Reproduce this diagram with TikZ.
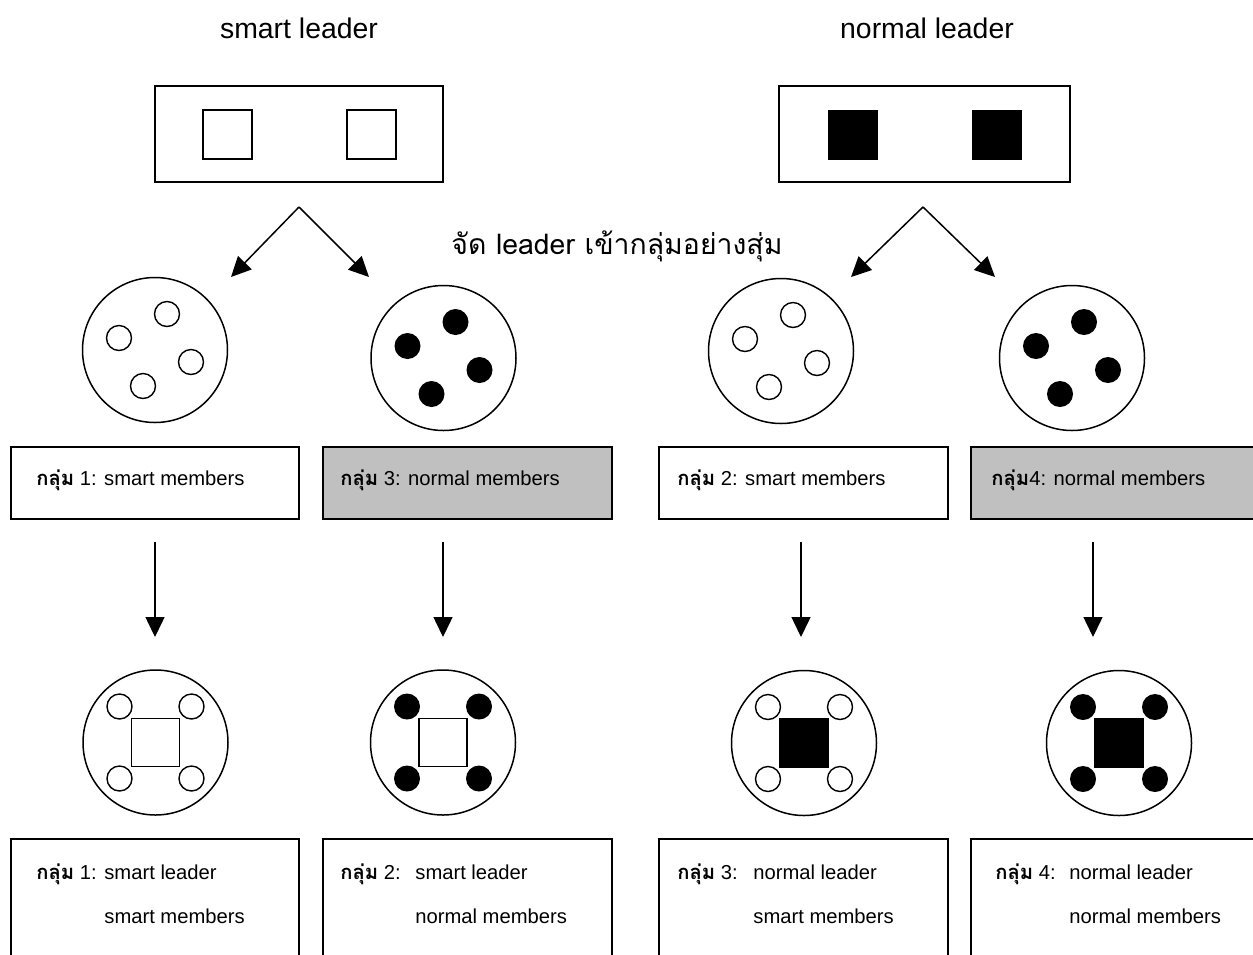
\documentclass[tikz,border=0pt]{standalone}
\usepackage{fontspec}
\setmainfont{Liberation Sans}
\newfontfamily\thaifont[Script=Thai]{Loma}
\usetikzlibrary{arrows.meta}
\newcommand\klum{{\thaifont\bfseries กลุ่ม}}
\begin{document}
\begin{tikzpicture}[x=0.5pt,y=-0.5pt,
  frame/.style={draw, rectangle, line width=0.8pt, inner sep=0pt},
  pool/.style={draw, circle, line width=0.75pt, minimum size=72.5pt, inner sep=0pt},
  memopen/.style={draw, circle, line width=0.7pt, minimum size=12.5pt, inner sep=0pt, fill=white},
  memfull/.style={circle, fill=black, minimum size=13pt, inner sep=0pt},
  leadopen/.style={draw, rectangle, line width=0.7pt, inner sep=0pt, fill=white},
  leadfull/.style={rectangle, fill=black, inner sep=0pt},
  arr/.style={line width=0.75pt, -{Triangle[length=10pt,width=9.5pt]}},
  title/.style={anchor=base, font=\fontsize{14.2}{17}\selectfont},
  boxtext/.style={anchor=base west, inner sep=0pt, font=\fontsize{10.1}{12}\selectfont},
  row1box/.style={frame, minimum height=36pt},
  row2box/.style={frame, minimum height=65.5pt}
]
\useasboundingbox (0,0) rectangle (1253,954);

% ---- leader pools ----
\node[title] (tsmart) at (299,38) {smart leader};
\node[title] (tnormal) at (927,38) {normal leader};

\node[frame, minimum width=144pt, minimum height=48pt] (lsmart) at (299,134) {};
\node[leadopen, minimum width=24.5pt, minimum height=24.5pt] (ls1) at (227.5,134.5) {};
\node[leadopen, minimum width=24.5pt, minimum height=24.5pt] (ls2) at (371.5,134.5) {};

\node[frame, minimum width=145.5pt, minimum height=48pt] (lnormal) at (924.5,134) {};
\node[leadfull, minimum width=25pt, minimum height=25pt] (ln1) at (853,134.5) {};
\node[leadfull, minimum width=25pt, minimum height=25pt] (ln2) at (997,134.5) {};

% ---- random assignment arrows ----
\coordinate (sa) at (299,207);
\coordinate (sa1) at (231,277);
\coordinate (sa2) at (369,277);
\coordinate (na) at (923,207);
\coordinate (na1) at (851,277);
\coordinate (na2) at (995,277);
\draw[arr] (sa) -- (sa1);
\draw[arr] (sa) -- (sa2);
\draw[arr] (na) -- (na1);
\draw[arr] (na) -- (na2);

\node[anchor=base, inner sep=0pt, font=\thaifont\fontsize{14.2}{17}\selectfont] (assign) at (617,254) {จัด leader เข้ากลุ่มอย่างสุ่ม};

% ---- member pools ----
\node[pool] (p1) at (155,350) {};
\node[pool] (p2) at (443.5,358) {};
\node[pool] (p3) at (781,351) {};
\node[pool] (p4) at (1072,358) {};
\foreach \p/\s in {p1/memopen, p2/memfull, p3/memopen, p4/memfull}{
  \node[\s] (\p-a) at ([shift={(12,-36)}]\p.center) {};
  \node[\s] (\p-b) at ([shift={(-36,-12)}]\p.center) {};
  \node[\s] (\p-c) at ([shift={(36,12)}]\p.center) {};
  \node[\s] (\p-d) at ([shift={(-12,36)}]\p.center) {};
}

% ---- member pool labels ----
\node[row1box, minimum width=144pt] (m1) at (155,483) {};
\node[row1box, minimum width=144.5pt, fill={rgb,255:red,192;green,192;blue,192}] (m2) at (467.5,483) {};
\node[row1box, minimum width=144.5pt] (m3) at (803.5,483) {};
\node[row1box, minimum width=145.5pt, fill={rgb,255:red,192;green,192;blue,192}] (m4) at (1116.5,483) {};
\node[boxtext] (m1t) at (36,485) {\klum\ 1: smart members};
\node[boxtext] (m2t) at (340,485) {\klum\ 3: normal members};
\node[boxtext] (m3t) at (677,485) {\klum\ 2: smart members};
\node[boxtext] (m4t) at (991,485) {\klum4: normal members};

% ---- down arrows ----
\foreach \i/\x in {1/155, 2/443, 3/801, 4/1093}{
  \coordinate (d\i s) at (\x,542);
  \coordinate (d\i e) at (\x,637);
  \draw[arr] (d\i s) -- (d\i e);
}

% ---- formed groups ----
\node[pool] (g1) at (155.5,742.5) {};
\node[pool] (g2) at (443,742.5) {};
\node[pool] (g3) at (804,743) {};
\node[pool] (g4) at (1119,743) {};
\foreach \g/\s in {g1/memopen, g2/memfull, g3/memopen, g4/memfull}{
  \node[\s] (\g-a) at ([shift={(-36,-36)}]\g.center) {};
  \node[\s] (\g-b) at ([shift={(36,-36)}]\g.center) {};
  \node[\s] (\g-c) at ([shift={(-36,36)}]\g.center) {};
  \node[\s] (\g-d) at ([shift={(36,36)}]\g.center) {};
}
\node[leadopen, minimum width=24pt, minimum height=24pt] (g1l) at (g1.center) {};
\node[leadopen, minimum width=24pt, minimum height=24pt] (g2l) at (g2.center) {};
\node[leadfull, minimum width=25pt, minimum height=25pt] (g3l) at (g3.center) {};
\node[leadfull, minimum width=25pt, minimum height=25pt] (g4l) at (g4.center) {};

% ---- group descriptions ----
\node[row2box, minimum width=144pt] (r1) at (155,904.5) {};
\node[row2box, minimum width=144.5pt] (r2) at (467.5,904.5) {};
\node[row2box, minimum width=144.5pt] (r3) at (803.5,904.5) {};
\node[row2box, minimum width=145.5pt] (r4) at (1116.5,904.5) {};
\node[boxtext] (r1a) at (36,879) {\makebox[34pt][l]{\klum\ 1:}smart leader};
\node[boxtext] (r1b) at (104,923) {smart members};
\node[boxtext] (r2a) at (340,879) {\makebox[37.5pt][l]{\klum\ 2:}smart leader};
\node[boxtext] (r2b) at (415,923) {normal members};
\node[boxtext] (r3a) at (677,879) {\makebox[38pt][l]{\klum\ 3:}normal leader};
\node[boxtext] (r3b) at (753,923) {smart members};
\node[boxtext] (r4a) at (995,879) {\makebox[37pt][l]{\klum\ 4:}normal leader};
\node[boxtext] (r4b) at (1069,923) {normal members};
\end{tikzpicture}
\end{document}
